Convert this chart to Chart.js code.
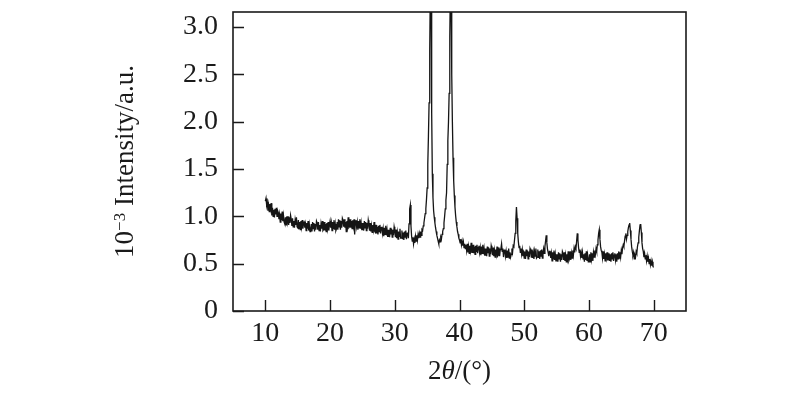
<!DOCTYPE html>
<html>
<head>
<meta charset="utf-8">
<script src="https://cdn.jsdelivr.net/npm/chart.js@4/dist/chart.umd.min.js"></script>
<style>
html,body{margin:0;padding:0;background:#fff;}
canvas{display:block;}
</style>
</head>
<body>
<canvas id="c" width="800" height="396"></canvas>
<script>
// ---- data ----
const twoTheta = [
  10.0,10.1,10.2,10.3,10.4,10.5,10.6,10.7,10.8,10.9,
  11.0,11.1,11.2,11.3,11.4,11.5,11.6,11.7,11.8,11.9,
  12.0,12.1,12.2,12.3,12.4,12.5,12.6,12.7,12.8,12.9,
  13.0,13.1,13.2,13.3,13.4,13.5,13.6,13.7,13.8,13.9,
  14.0,14.1,14.2,14.3,14.4,14.5,14.6,14.7,14.8,14.9,
  15.0,15.1,15.2,15.3,15.4,15.5,15.6,15.7,15.8,15.9,
  16.0,16.1,16.2,16.3,16.4,16.5,16.6,16.7,16.8,16.9,
  17.0,17.1,17.2,17.3,17.4,17.5,17.6,17.7,17.8,17.9,
  18.0,18.1,18.2,18.3,18.4,18.5,18.6,18.7,18.8,18.9,
  19.0,19.1,19.2,19.3,19.4,19.5,19.6,19.7,19.8,19.9,
  20.0,20.1,20.2,20.3,20.4,20.5,20.6,20.7,20.8,20.9,
  21.0,21.1,21.2,21.3,21.4,21.5,21.6,21.7,21.8,21.9,
  22.0,22.1,22.2,22.3,22.4,22.5,22.6,22.7,22.8,22.9,
  23.0,23.1,23.2,23.3,23.4,23.5,23.6,23.7,23.8,23.9,
  24.0,24.1,24.2,24.3,24.4,24.5,24.6,24.7,24.8,24.9,
  25.0,25.1,25.2,25.3,25.4,25.5,25.6,25.7,25.8,25.9,
  26.0,26.1,26.2,26.3,26.4,26.5,26.6,26.7,26.8,26.9,
  27.0,27.1,27.2,27.3,27.4,27.5,27.6,27.7,27.8,27.9,
  28.0,28.1,28.2,28.3,28.4,28.5,28.6,28.7,28.8,28.9,
  29.0,29.1,29.2,29.3,29.4,29.5,29.6,29.7,29.8,29.9,
  30.0,30.1,30.2,30.3,30.4,30.5,30.6,30.7,30.8,30.9,
  31.0,31.1,31.2,31.3,31.4,31.5,31.6,31.7,31.8,31.9,
  32.0,32.1,32.2,32.3,32.4,32.5,32.6,32.7,32.8,32.9,
  33.0,33.1,33.2,33.3,33.4,33.5,33.6,33.7,33.8,33.9,
  34.0,34.1,34.2,34.3,34.4,34.5,34.6,34.7,34.8,34.9,
  35.0,35.1,35.2,35.3,35.4,35.5,35.6,35.7,35.8,35.9,
  36.0,36.1,36.2,36.3,36.4,36.5,36.6,36.7,36.8,36.9,
  37.0,37.1,37.2,37.3,37.4,37.5,37.6,37.7,37.8,37.9,
  38.0,38.1,38.2,38.3,38.4,38.5,38.6,38.7,38.8,38.9,
  39.0,39.1,39.2,39.3,39.4,39.5,39.6,39.7,39.8,39.9,
  40.0,40.1,40.2,40.3,40.4,40.5,40.6,40.7,40.8,40.9,
  41.0,41.1,41.2,41.3,41.4,41.5,41.6,41.7,41.8,41.9,
  42.0,42.1,42.2,42.3,42.4,42.5,42.6,42.7,42.8,42.9,
  43.0,43.1,43.2,43.3,43.4,43.5,43.6,43.7,43.8,43.9,
  44.0,44.1,44.2,44.3,44.4,44.5,44.6,44.7,44.8,44.9,
  45.0,45.1,45.2,45.3,45.4,45.5,45.6,45.7,45.8,45.9,
  46.0,46.1,46.2,46.3,46.4,46.5,46.6,46.7,46.8,46.9,
  47.0,47.1,47.2,47.3,47.4,47.5,47.6,47.7,47.8,47.9,
  48.0,48.1,48.2,48.3,48.4,48.5,48.6,48.7,48.8,48.9,
  49.0,49.1,49.2,49.3,49.4,49.5,49.6,49.7,49.8,49.9,
  50.0,50.1,50.2,50.3,50.4,50.5,50.6,50.7,50.8,50.9,
  51.0,51.1,51.2,51.3,51.4,51.5,51.6,51.7,51.8,51.9,
  52.0,52.1,52.2,52.3,52.4,52.5,52.6,52.7,52.8,52.9,
  53.0,53.1,53.2,53.3,53.4,53.5,53.6,53.7,53.8,53.9,
  54.0,54.1,54.2,54.3,54.4,54.5,54.6,54.7,54.8,54.9,
  55.0,55.1,55.2,55.3,55.4,55.5,55.6,55.7,55.8,55.9,
  56.0,56.1,56.2,56.3,56.4,56.5,56.6,56.7,56.8,56.9,
  57.0,57.1,57.2,57.3,57.4,57.5,57.6,57.7,57.8,57.9,
  58.0,58.1,58.2,58.3,58.4,58.5,58.6,58.7,58.8,58.9,
  59.0,59.1,59.2,59.3,59.4,59.5,59.6,59.7,59.8,59.9,
  60.0,60.1,60.2,60.3,60.4,60.5,60.6,60.7,60.8,60.9,
  61.0,61.1,61.2,61.3,61.4,61.5,61.6,61.7,61.8,61.9,
  62.0,62.1,62.2,62.3,62.4,62.5,62.6,62.7,62.8,62.9,
  63.0,63.1,63.2,63.3,63.4,63.5,63.6,63.7,63.8,63.9,
  64.0,64.1,64.2,64.3,64.4,64.5,64.6,64.7,64.8,64.9,
  65.0,65.1,65.2,65.3,65.4,65.5,65.6,65.7,65.8,65.9,
  66.0,66.1,66.2,66.3,66.4,66.5,66.6,66.7,66.8,66.9,
  67.0,67.1,67.2,67.3,67.4,67.5,67.6,67.7,67.8,67.9,
  68.0,68.1,68.2,68.3,68.4,68.5,68.6,68.7,68.8,68.9,
  69.0,69.1,69.2,69.3,69.4,69.5,69.6,69.7,69.8,69.9,
  70.0
];
const intensity = [
  1.16,1.19,1.12,1.15,1.06,1.12,1.05,1.13,1.08,1.14,
  1.01,1.09,1.00,1.07,0.99,1.08,1.02,1.09,1.00,1.06,
  1.04,0.97,1.02,0.94,1.03,0.96,1.05,0.95,1.01,0.94,
  0.92,0.99,0.91,1.00,0.94,1.00,0.91,0.99,0.93,1.01,
  0.97,0.90,0.98,0.89,0.95,0.88,0.96,0.91,0.99,0.89,
  0.88,0.96,0.87,0.94,0.86,0.95,0.89,0.96,0.87,0.93,
  0.94,0.88,0.92,0.85,0.93,0.87,0.95,0.85,0.91,0.84,
  0.85,0.92,0.84,0.94,0.87,0.93,0.84,0.92,0.86,0.95,
  0.93,0.86,0.94,0.85,0.91,0.84,0.92,0.87,0.95,0.85,
  0.86,0.94,0.85,0.92,0.84,0.93,0.87,0.94,0.85,0.91,
  0.95,0.88,0.93,0.85,0.94,0.87,0.96,0.86,0.92,0.85,
  0.87,0.94,0.86,0.97,0.89,0.96,0.86,0.95,0.88,0.98,
  0.96,0.89,0.97,0.88,0.94,0.84,0.95,0.90,0.99,0.88,
  0.89,0.97,0.88,0.95,0.87,0.96,0.90,0.97,0.81,0.94,
  0.96,0.89,0.94,0.86,0.95,0.88,0.97,0.87,0.93,0.86,
  0.86,0.93,0.85,0.95,0.88,0.94,0.85,0.93,0.87,0.96,
  0.92,0.85,0.93,0.84,0.90,0.83,0.91,0.86,0.94,0.84,
  0.83,0.91,0.82,0.89,0.81,0.90,0.84,0.91,0.82,0.88,
  0.89,0.82,0.87,0.79,0.88,0.81,0.90,0.80,0.86,0.79,
  0.79,0.86,0.78,0.88,0.81,0.87,0.78,0.86,0.80,0.89,
  0.85,0.78,0.86,0.77,0.83,0.76,0.84,0.79,0.87,0.77,
  0.77,0.85,0.76,0.83,0.75,0.84,0.78,0.85,0.76,0.82,
  0.83,0.77,0.92,1.08,1.12,0.90,0.79,0.74,0.78,0.71,
  0.76,0.72,0.79,0.74,0.80,0.75,0.81,0.77,0.82,0.78,
  0.84,0.80,0.86,0.85,0.90,0.93,0.98,1.03,1.08,1.18,
  1.30,1.55,1.85,2.20,2.75,3.50,3.45,2.10,1.45,1.20,
  1.06,0.99,0.93,0.88,0.84,0.80,0.77,0.74,0.71,0.75,
  0.73,0.78,0.76,0.81,0.84,0.87,0.93,1.00,1.08,1.17,
  1.25,1.55,1.80,2.00,2.30,2.90,3.50,3.30,2.50,2.00,
  1.62,1.38,1.22,1.10,1.01,0.94,0.89,0.84,0.81,0.77,
  0.75,0.72,0.76,0.70,0.74,0.69,0.73,0.67,0.71,0.66,
  0.70,0.64,0.71,0.62,0.68,0.61,0.69,0.64,0.72,0.62,
  0.62,0.70,0.61,0.68,0.60,0.69,0.63,0.70,0.61,0.67,
  0.69,0.62,0.67,0.59,0.68,0.61,0.70,0.60,0.66,0.59,
  0.59,0.66,0.58,0.68,0.61,0.67,0.58,0.66,0.60,0.69,
  0.66,0.59,0.67,0.58,0.64,0.57,0.65,0.60,0.68,0.58,
  0.59,0.67,0.58,0.65,0.66,0.71,0.63,0.66,0.57,0.64,
  0.65,0.58,0.63,0.56,0.64,0.57,0.66,0.56,0.62,0.57,
  0.60,0.66,0.62,0.69,0.68,0.75,0.82,0.95,1.10,0.98,
  0.82,0.73,0.67,0.69,0.62,0.66,0.60,0.65,0.58,0.64,
  0.56,0.63,0.55,0.65,0.58,0.64,0.55,0.63,0.57,0.66,
  0.64,0.57,0.65,0.56,0.62,0.55,0.63,0.58,0.66,0.56,
  0.57,0.65,0.56,0.63,0.55,0.64,0.58,0.65,0.56,0.62,
  0.66,0.61,0.68,0.74,0.80,0.72,0.65,0.62,0.58,0.63,
  0.63,0.56,0.61,0.53,0.62,0.55,0.64,0.54,0.60,0.53,
  0.53,0.60,0.52,0.62,0.55,0.61,0.52,0.60,0.54,0.63,
  0.61,0.54,0.62,0.53,0.59,0.52,0.60,0.55,0.63,0.53,
  0.55,0.63,0.54,0.61,0.56,0.64,0.59,0.66,0.62,0.68,
  0.66,0.74,0.82,0.75,0.67,0.62,0.65,0.58,0.62,0.56,
  0.62,0.55,0.60,0.52,0.61,0.54,0.63,0.53,0.59,0.52,
  0.53,0.60,0.52,0.62,0.55,0.61,0.53,0.62,0.57,0.64,
  0.60,0.66,0.63,0.70,0.75,0.82,0.86,0.76,0.68,0.64,
  0.62,0.56,0.63,0.55,0.60,0.53,0.61,0.56,0.62,0.54,
  0.54,0.61,0.53,0.60,0.52,0.61,0.55,0.62,0.53,0.59,
  0.61,0.54,0.60,0.52,0.61,0.55,0.63,0.56,0.62,0.57,
  0.64,0.60,0.67,0.70,0.68,0.74,0.79,0.82,0.76,0.80,
  0.84,0.88,0.91,0.93,0.85,0.76,0.68,0.63,0.59,0.62,
  0.55,0.59,0.57,0.63,0.61,0.68,0.72,0.78,0.85,0.91,
  0.92,0.83,0.72,0.66,0.63,0.57,0.61,0.55,0.59,0.53,
  0.58,0.52,0.56,0.50,0.55,0.49,0.53,0.48,0.52,0.47,
  0.46
];
const xTicks = [10, 20, 30, 40, 50, 60, 70];
const yTicks = [0, 0.5, 1.0, 1.5, 2.0, 2.5, 3.0];
const yTickLabels = ['0', '0.5', '1.0', '1.5', '2.0', '2.5', '3.0'];
const xRange = [5, 75];
const yRange = [0, 3.16];

const SERIF = '"Liberation Serif", "Times New Roman", serif';
const INK = '#1a1a1a';

const framePlugin = {
  id: 'frame',
  beforeDraw(chart) {
    const ctx = chart.ctx;
    ctx.save();
    ctx.fillStyle = '#fff';
    ctx.fillRect(0, 0, chart.width, chart.height);
    ctx.restore();
  },
  afterDatasetsDraw(chart) {
    const ctx = chart.ctx;
    const a = chart.chartArea;
    const xs = chart.scales.x, ys = chart.scales.y;
    ctx.save();
    ctx.strokeStyle = INK;
    ctx.lineWidth = 1.6;
    ctx.strokeRect(a.left, a.top, a.right - a.left, a.bottom - a.top);
    ctx.lineWidth = 1.4;
    const tl = 11;
    ctx.beginPath();
    xTicks.forEach(v => {
      const px = Math.round(xs.getPixelForValue(v)) + 0.5;
      ctx.moveTo(px, a.bottom);
      ctx.lineTo(px, a.bottom - tl);
    });
    yTicks.forEach(v => {
      const py = Math.round(ys.getPixelForValue(v)) + 0.5;
      ctx.moveTo(a.left, py);
      ctx.lineTo(a.left + tl, py);
    });
    ctx.stroke();

    // x title: 2θ/(°)
    ctx.fillStyle = INK;
    ctx.textBaseline = 'middle';
    const parts = [
      {t: '2', f: '27px ' + SERIF},
      {t: 'θ', f: 'italic 27px ' + SERIF},
      {t: '/(°)', f: '27px ' + SERIF}
    ];
    let w = 0;
    parts.forEach(p => { ctx.font = p.f; p.w = ctx.measureText(p.t).width; w += p.w; });
    let x0 = (a.left + a.right) / 2 - w / 2;
    const ty = 372;
    parts.forEach(p => { ctx.font = p.f; ctx.textAlign = 'left'; ctx.fillText(p.t, x0, ty); x0 += p.w; });

    // y title: 10^-3 Intensity/a.u.
    ctx.save();
    ctx.translate(124, (a.top + a.bottom) / 2);
    ctx.rotate(-Math.PI / 2);
    const yparts = [
      {t: '10', f: '27px ' + SERIF, dy: 0},
      {t: '−3', f: '17px ' + SERIF, dy: -8},
      {t: ' Intensity/a.u.', f: '27px ' + SERIF, dy: 0}
    ];
    let yw = 0;
    yparts.forEach(p => { ctx.font = p.f; p.w = ctx.measureText(p.t).width; yw += p.w; });
    let y0 = -yw / 2;
    ctx.textBaseline = 'alphabetic';
    yparts.forEach(p => { ctx.font = p.f; ctx.fillText(p.t, y0, 9 + p.dy); y0 += p.w; });
    ctx.restore();
    ctx.restore();
  }
};

new Chart(document.getElementById('c'), {
  type: 'line',
  data: {
    datasets: [{
      data: twoTheta.map((x, i) => ({x: x, y: intensity[i]})),
      borderColor: '#151515',
      borderWidth: 1.3,
      pointRadius: 0,
      tension: 0,
      fill: false
    }]
  },
  options: {
    responsive: false,
    animation: false,
    devicePixelRatio: 1,
    layout: {padding: {left: 0, right: 114, top: 12, bottom: 0}},
    plugins: {legend: {display: false}, tooltip: {enabled: false}},
    scales: {
      x: {
        type: 'linear',
        min: xRange[0], max: xRange[1],
        afterBuildTicks: s => { s.ticks = xTicks.map(v => ({value: v})); },
        afterFit: s => { s.height = 85; s.paddingLeft = 0; s.paddingRight = 0; },
        grid: {display: false, drawTicks: false},
        border: {display: false},
        ticks: {
          font: {family: SERIF, size: 28}, color: INK, padding: 6,
          maxRotation: 0, autoSkip: false
        }
      },
      y: {
        type: 'linear',
        min: yRange[0], max: yRange[1],
        afterBuildTicks: s => { s.ticks = yTicks.map(v => ({value: v})); },
        afterFit: s => { s.width = 233; s.paddingTop = 0; s.paddingBottom = 0; },
        grid: {display: false, drawTicks: false},
        border: {display: false},
        ticks: {
          font: {family: SERIF, size: 28}, color: INK, padding: 15,
          autoSkip: false,
          callback: (v, i) => yTickLabels[i]
        }
      }
    }
  },
  plugins: [framePlugin]
});
</script>
</body>
</html>
